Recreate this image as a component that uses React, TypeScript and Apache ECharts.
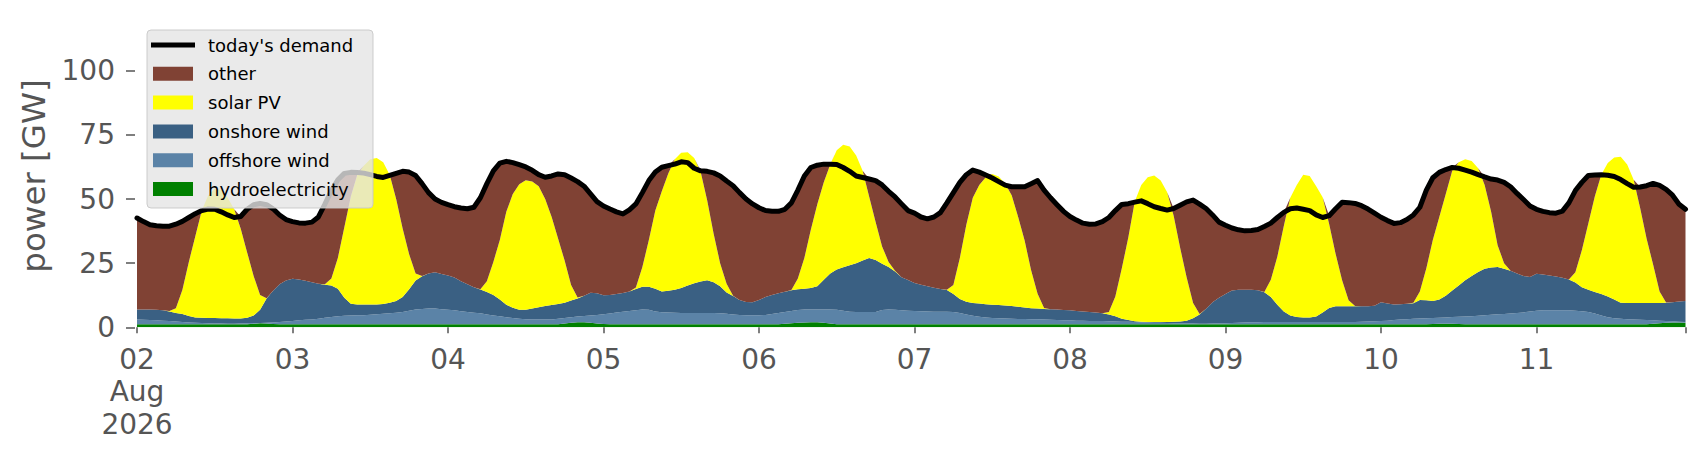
import React, { useEffect, useRef } from "react";
import * as echarts from "echarts";

// hourly timestamps, 2 Aug 2026 00:00 .. 11 Aug 2026 23:00
const START_DAY = 2;
const HOURS = 240;
const categories: string[] = [];
for (let i = 0; i < HOURS; i++) {
  const d = START_DAY + Math.floor(i / 24);
  const h = i % 24;
  categories.push(`2026-08-${String(d).padStart(2, "0")} ${String(h).padStart(2, "0")}:00`);
}

const yTicks = [0, 25, 50, 75, 100];

// GW, one row per day
const hydro = [
  1.2, 1.2, 1.2, 1.2, 1.2, 1.2, 1.2, 1.2, 1.2, 1.2, 1.2, 1.2, 1.2, 1.2, 1.2, 1.2, 1.2, 1.2, 1.4, 1.6, 1.5, 1.3, 1.2, 1.2,
  1.2, 1.2, 1.2, 1.2, 1.2, 1.2, 1.2, 1.2, 1.2, 1.2, 1.2, 1.2, 1.2, 1.2, 1.2, 1.2, 1.2, 1.2, 1.2, 1.2, 1.2, 1.2, 1.2, 1.2,
  1.2, 1.2, 1.2, 1.2, 1.2, 1.2, 1.2, 1.2, 1.2, 1.2, 1.2, 1.2, 1.2, 1.2, 1.2, 1.2, 1.2, 1.2, 1.5, 1.8, 2.0, 2.0, 1.8, 1.5,
  1.3, 1.2, 1.2, 1.2, 1.2, 1.2, 1.2, 1.2, 1.2, 1.2, 1.2, 1.2, 1.2, 1.2, 1.2, 1.2, 1.2, 1.2, 1.2, 1.2, 1.2, 1.2, 1.2, 1.2,
  1.2, 1.2, 1.2, 1.2, 1.4, 1.6, 1.8, 1.9, 2.0, 2.0, 1.8, 1.5, 1.2, 1.2, 1.2, 1.2, 1.2, 1.2, 1.2, 1.2, 1.2, 1.2, 1.2, 1.2,
  1.2, 1.2, 1.2, 1.2, 1.2, 1.2, 1.2, 1.2, 1.2, 1.2, 1.2, 1.2, 1.2, 1.2, 1.2, 1.2, 1.2, 1.2, 1.2, 1.2, 1.2, 1.2, 1.2, 1.2,
  1.2, 1.2, 1.2, 1.2, 1.2, 1.2, 1.2, 1.2, 1.2, 1.2, 1.2, 1.2, 1.2, 1.2, 1.2, 1.2, 1.2, 1.2, 1.2, 1.2, 1.2, 1.2, 1.2, 1.2,
  1.2, 1.2, 1.2, 1.2, 1.2, 1.2, 1.2, 1.2, 1.2, 1.2, 1.2, 1.2, 1.2, 1.2, 1.2, 1.2, 1.2, 1.2, 1.2, 1.2, 1.2, 1.2, 1.2, 1.2,
  1.2, 1.2, 1.2, 1.2, 1.2, 1.2, 1.2, 1.2, 1.3, 1.4, 1.4, 1.4, 1.3, 1.2, 1.2, 1.2, 1.2, 1.2, 1.2, 1.2, 1.2, 1.2, 1.2, 1.2,
  1.2, 1.2, 1.2, 1.2, 1.2, 1.2, 1.2, 1.2, 1.2, 1.2, 1.2, 1.2, 1.2, 1.2, 1.2, 1.2, 1.2, 1.2, 1.4, 1.6, 1.8, 1.9, 1.9, 1.8,
];

const offshoreWind = [
  1.8, 1.7, 1.6, 1.5, 1.4, 1.3, 1.1, 0.9, 0.7, 0.6, 0.5, 0.4, 0.3, 0.3, 0.2, 0.2, 0.3, 0.4, 0.3, 0.1, 0.3, 0.6, 0.9, 1.1,
  1.3, 1.5, 1.7, 1.8, 2.1, 2.5, 2.8, 3.1, 3.3, 3.4, 3.5, 3.5, 3.7, 3.9, 4.1, 4.3, 4.5, 4.8, 5.3, 5.7, 5.9, 6.1, 6.1, 5.8,
  5.6, 5.4, 5.1, 4.8, 4.5, 4.3, 3.8, 3.4, 3.1, 2.7, 2.4, 2.1, 1.9, 1.8, 1.8, 1.8, 1.8, 2.1, 2.1, 2.1, 2.2, 2.4, 2.8, 3.3,
  3.8, 4.2, 4.6, 4.9, 5.2, 5.4, 5.7, 5.6, 5.0, 4.7, 4.6, 4.5, 4.4, 4.4, 4.4, 4.4, 4.4, 4.4, 4.3, 4.1, 3.8, 3.6, 3.5, 3.5,
  3.5, 3.6, 4.0, 4.4, 4.6, 4.8, 4.9, 5.0, 4.9, 4.9, 5.1, 5.4, 5.6, 5.3, 4.9, 4.8, 4.8, 4.8, 4.8, 5.5, 5.7, 5.6, 5.4, 5.3,
  5.2, 5.1, 5.0, 4.9, 4.9, 4.9, 4.8, 4.4, 3.8, 3.3, 2.9, 2.6, 2.4, 2.3, 2.2, 2.1, 2.0, 2.0, 1.9, 1.9, 1.8, 1.7, 1.6, 1.5,
  1.5, 1.4, 1.4, 1.3, 1.3, 1.3, 1.2, 1.1, 1.0, 1.0, 0.9, 0.8, 0.7, 0.6, 0.6, 0.5, 0.4, 0.4, 0.3, 0.3, 0.2, 0.2, 0.3, 0.3,
  0.4, 0.5, 0.6, 0.7, 0.8, 0.8, 0.9, 0.9, 0.9, 0.9, 0.9, 0.9, 0.9, 0.9, 0.9, 0.9, 0.9, 0.9, 0.9, 0.9, 0.9, 1.0, 1.1, 1.2,
  1.3, 1.4, 1.6, 1.8, 1.9, 2.1, 2.2, 2.3, 2.3, 2.3, 2.4, 2.6, 2.8, 3.0, 3.1, 3.3, 3.5, 3.7, 3.9, 4.0, 4.2, 4.4, 4.6, 5.0,
  5.3, 5.4, 5.4, 5.4, 5.4, 5.4, 5.3, 5.1, 4.8, 4.2, 3.4, 2.7, 2.3, 2.1, 1.9, 1.8, 1.7, 1.6, 1.3, 1.0, 0.7, 0.5, 0.3, 0.3,
];

const onshoreWind = [
  3.9, 4.0, 4.1, 4.1, 4.0, 3.7, 3.3, 3.1, 2.5, 2.0, 2.0, 2.0, 2.1, 2.0, 2.1, 2.0, 1.9, 2.1, 2.9, 5.1, 9.4, 12.3, 14.7, 15.9,
  16.4, 15.9, 15.2, 14.6, 13.7, 12.9, 12.3, 10.7, 7.0, 4.6, 4.2, 4.2, 4.0, 3.8, 3.8, 4.1, 4.6, 5.8, 8.3, 11.3, 12.8, 13.7, 14.2, 13.8,
  13.4, 12.8, 11.7, 10.8, 9.9, 9.2, 8.8, 8.0, 6.5, 4.9, 4.0, 3.5, 3.7, 4.3, 4.8, 5.3, 5.7, 5.8, 6.0, 6.5, 7.0, 7.9, 8.9, 8.5,
  7.4, 7.2, 7.2, 7.3, 7.6, 8.3, 8.9, 9.0, 8.8, 8.1, 8.4, 8.9, 9.7, 10.7, 11.6, 12.3, 12.7, 12.0, 10.5, 8.3, 7.2, 5.8, 5.2, 5.1,
  5.9, 7.0, 7.4, 7.7, 7.9, 8.0, 8.1, 8.1, 8.4, 9.1, 11.6, 14.1, 15.7, 16.9, 18.1, 19.0, 20.0, 21.0, 20.2, 18.1, 16.6, 15.0, 12.9, 11.9,
  10.9, 10.3, 9.8, 9.3, 8.8, 8.4, 7.0, 5.4, 5.0, 5.0, 5.2, 5.2, 5.2, 5.2, 5.1, 5.0, 4.8, 4.5, 4.3, 4.2, 4.1, 4.1, 4.1, 4.0,
  3.9, 3.8, 3.6, 3.5, 3.3, 3.0, 2.6, 2.0, 1.1, 0.6, 0.3, 0.2, 0.2, 0.3, 0.3, 0.4, 0.6, 0.7, 1.1, 2.0, 3.6, 5.8, 8.3, 10.0,
  11.4, 12.6, 12.8, 12.7, 12.6, 12.4, 11.6, 9.7, 6.7, 4.1, 2.5, 1.9, 1.7, 1.7, 2.1, 3.7, 5.4, 6.1, 6.1, 6.1, 6.1, 6.0, 5.9, 6.0,
  7.3, 6.7, 6.1, 6.0, 6.1, 6.1, 7.2, 7.0, 6.7, 7.1, 8.5, 10.3, 12.2, 14.1, 15.7, 17.1, 18.1, 18.4, 18.4, 17.6, 16.6, 15.4, 14.2, 13.4,
  14.4, 14.0, 13.6, 13.2, 12.7, 12.0, 11.0, 9.3, 8.6, 8.4, 8.4, 8.1, 7.3, 6.3, 6.4, 6.5, 6.6, 6.7, 6.8, 6.9, 7.1, 7.4, 7.9, 8.2,
];

const solarPV = [
  0, 0, 0, 0, 0, 0.2, 1.8, 9.3, 21.1, 31.7, 41.8, 47.9, 50.4, 50.0, 47.0, 42.6, 35.1, 25.5, 15.4, 5.8, 0.1, 0, 0, 0,
  0, 0, 0, 0, 0, 0.2, 2.7, 12.0, 27.5, 41.8, 50.6, 54.1, 56.6, 57.1, 55.2, 49.9, 39.7, 26.7, 13.7, 2.8, 0.1, 0, 0, 0,
  0, 0, 0, 0, 0, 0.1, 4.2, 12.9, 23.2, 36.2, 44.4, 49.0, 50.5, 49.5, 47.2, 41.7, 34.3, 25.4, 16.4, 6.1, 0.4, 0, 0, 0,
  0, 0, 0, 0, 0, 0.6, 7.7, 18.2, 30.5, 39.0, 45.8, 50.9, 52.7, 51.9, 48.8, 42.6, 31.2, 18.9, 9.0, 3.4, 0.1, 0, 0, 0,
  0, 0, 0, 0, 0, 0.1, 4.2, 12.0, 22.7, 32.0, 38.0, 42.5, 46.5, 47.8, 46.3, 42.0, 35.0, 24.0, 14.8, 6.7, 2.0, 0.2, 0, 0,
  0, 0, 0, 0, 0, 0.1, 3.5, 16.0, 30.0, 41.0, 46.2, 49.5, 51.0, 50.1, 47.5, 43.2, 35.0, 26.1, 14.8, 5.8, 0.4, 0, 0, 0,
  0, 0, 0, 0, 0, 0, 1.0, 7.7, 19.7, 32.2, 46.6, 53.3, 56.4, 57.1, 55.1, 50.5, 41.3, 28.7, 16.9, 6.0, 0.2, 0, 0, 0,
  0, 0, 0, 0, 0, 0, 0.1, 6.7, 18.7, 33.3, 45.9, 51.5, 55.7, 55.2, 50.8, 44.9, 32.8, 20.4, 10.1, 2.3, 0.1, 0, 0, 0,
  0, 0, 0, 0, 0, 0.2, 3.4, 12.5, 23.7, 32.2, 39.7, 46.7, 48.0, 47.2, 44.8, 40.4, 32.7, 21.7, 8.5, 2.2, 0, 0, 0, 0,
  0, 0, 0, 0, 0, 0, 4.0, 14.4, 25.9, 37.2, 46.5, 52.0, 55.4, 56.9, 54.0, 48.0, 37.0, 25.0, 15.0, 4.5, 0.1, 0, 0, 0,
];

const other = [
  35.7, 34.3, 33.1, 32.8, 32.8, 33.0, 32.8, 26.8, 17.3, 8.8, 0, 0, 0, 0, 0, 0, 4.7, 16.8, 27.8, 35.7, 36.5, 32.0, 27.0, 23.8,
  22.3, 22.1, 22.5, 23.4, 26.0, 31.2, 34.3, 30.5, 21.0, 9.4, 0.8, 0, 0, 0, 0, 0, 10.0, 22.3, 32.0, 38.2, 36.0, 31.5, 28.5, 27.9,
  27.6, 27.6, 28.5, 29.4, 31.2, 35.7, 38.0, 35.5, 30.0, 19.7, 12.2, 7.6, 5.2, 4.4, 4.5, 8.5, 16.0, 25.3, 33.5, 41.7, 45.2, 42.7, 38.5, 35.7,
  34.8, 33.5, 32.0, 30.8, 31.8, 32.6, 28.9, 23.2, 15.0, 9.4, 3.0, 0, 0, 0, 0, 0.5, 11.3, 23.7, 34.0, 40.0, 42.9, 41.9, 40.1, 38.3,
  36.0, 33.7, 32.6, 31.9, 32.1, 34.0, 34.5, 32.0, 24.3, 15.2, 7.1, 0.1, 0, 0, 0, 0, 0, 6.8, 16.2, 24.0, 27.5, 28.8, 28.6, 27.1,
  27.2, 26.4, 26.3, 27.6, 29.8, 33.9, 36.0, 29.5, 19.5, 10.8, 5.0, 0.9, 0, 0, 0, 3.3, 11.8, 21.0, 33.8, 44.1, 46.0, 43.5, 40.9, 38.5,
  36.6, 35.4, 34.4, 34.2, 34.5, 35.7, 36.8, 33.5, 24.9, 13.2, 0, 0, 0, 0, 0, 0, 2.8, 16.6, 29.4, 40.1, 42.8, 39.1, 34.0, 29.5,
  26.8, 24.4, 23.4, 23.0, 23.1, 23.7, 25.5, 22.1, 15.3, 5.3, 0, 0, 0, 0, 0, 0, 3.2, 17.6, 30.4, 38.1, 40.0, 39.2, 37.9, 36.1,
  33.1, 32.3, 31.6, 31.8, 32.8, 34.2, 32.8, 30.5, 24.3, 17.4, 9.5, 1.3, 0, 0, 0, 0, 3.1, 12.8, 25.4, 31.5, 32.8, 31.2, 29.8, 27.7,
  25.1, 24.6, 24.5, 24.7, 26.0, 29.9, 31.8, 26.5, 18.7, 8.4, 0, 0, 0, 0, 0, 0, 8.2, 20.7, 31.6, 41.3, 44.1, 41.7, 37.9, 35.7,
];

const demand = [
  42.6, 41.2, 40, 39.6, 39.4, 39.4, 40.2, 41.3, 42.8, 44.3, 45.5, 46.1, 46, 45, 43.8, 42.8, 43.2, 46, 47.8, 48.3, 47.8, 46.2, 43.8, 42,
  41.2, 40.7, 40.6, 41, 43, 48, 53.3, 57.5, 60, 60.4, 60.3, 60.1, 59.5, 58.8, 58.4, 59.2, 60, 60.8, 60.5, 59.2, 56, 52.5, 50, 48.7,
  47.8, 47, 46.5, 46.2, 46.8, 50.5, 56, 61, 64, 64.7, 64.2, 63.4, 62.5, 61.2, 59.5, 58.5, 59, 59.8, 59.5, 58.2, 56.8, 55, 52, 49,
  47.3, 46.1, 45, 44.2, 45.8, 48.1, 52.5, 57.2, 60.5, 62.4, 63, 63.6, 64.5, 64.2, 62, 61, 60.8, 60.2, 59, 57, 55.2, 52.5, 50, 48.1,
  46.6, 45.5, 45.2, 45.2, 46, 48.5, 53.5, 59, 62.3, 63.2, 63.6, 63.6, 63.5, 62.3, 60.8, 59, 58.4, 57.8, 57.2, 55.5, 53, 50.8, 48.1, 45.5,
  44.5, 43, 42.3, 43, 44.7, 48.5, 52.5, 56.5, 59.5, 61.3, 60.5, 59.4, 58.2, 56.8, 55.4, 54.8, 54.8, 54.8, 56, 57.2, 53.5, 50.5, 47.8, 45.2,
  43.2, 41.8, 40.6, 40.2, 40.3, 41.2, 42.8, 45.5, 47.9, 48.2, 48.8, 49.3, 48.2, 47, 46.3, 45.7, 46.3, 47.6, 48.9, 49.6, 48, 46.3, 43.8, 41,
  39.8, 38.7, 38, 37.6, 37.7, 38.1, 39.3, 40.6, 42.8, 44.8, 46.2, 46.5, 46, 45.5, 43.8, 42.8, 43.5, 46.2, 48.7, 48.6, 48.3, 47.4, 46.1, 44.5,
  42.9, 41.6, 40.5, 40.8, 42, 43.8, 46.8, 53.5, 58.3, 60.4, 61.5, 62.3, 62, 61.3, 60.5, 59.5, 58.6, 57.8, 57.4, 56.5, 54.8, 52.2, 49.8, 47.3,
  46, 45.2, 44.7, 44.5, 45.3, 48.5, 53.3, 56.5, 59.2, 59.4, 59.5, 59.3, 58.8, 57.6, 56, 54.6, 54.7, 55.2, 56.1, 55.3, 53.8, 51.5, 48, 46,
];

// stacking order, bottom to top
const STACK = [
  { name: "hydroelectricity", data: hydro, color: "#008000" },
  { name: "offshore wind", data: offshoreWind, color: "#5b83a7" },
  { name: "onshore wind", data: onshoreWind, color: "#3a6083" },
  { name: "solar PV", data: solarPV, color: "#ffff00" },
  { name: "other", data: other, color: "#804234" },
];
const DEMAND_NAME = "today's demand";
const LEGEND_ORDER = [DEMAND_NAME, "other", "solar PV", "onshore wind", "offshore wind", "hydroelectricity"];

const FONT = "DejaVu Sans";
const GREY = "#555555";

function legendGraphics() {
  const els: any[] = [
    {
      type: "rect",
      z: 100,
      shape: { x: 147, y: 30, width: 226, height: 178, r: 4 },
      style: { fill: "rgba(229,229,229,0.8)", stroke: "rgba(200,200,200,0.9)", lineWidth: 1 },
    },
  ];
  LEGEND_ORDER.forEach((name, i) => {
    const cy = 45 + i * 28.8;
    if (name === DEMAND_NAME) {
      els.push({ type: "line", z: 101, shape: { x1: 151, y1: cy, x2: 195, y2: cy }, style: { stroke: "#000", lineWidth: 5 } });
    } else {
      const s = STACK.find((x) => x.name === name)!;
      els.push({ type: "rect", z: 101, shape: { x: 153, y: cy - 7, width: 40, height: 14 }, style: { fill: s.color } });
    }
    els.push({
      type: "text",
      z: 101,
      x: 208,
      y: cy,
      style: {
        text: name,
        fill: "#000",
        fontSize: 18,
        fontFamily: FONT,
        align: "left",
        verticalAlign: "middle",
      },
    });
  });
  return els;
}

export default function App() {
  const ref = useRef<HTMLDivElement>(null);
  useEffect(() => {
    if (!ref.current) return;
    const chart = echarts.init(ref.current, null, { renderer: "svg" });
    const last = HOURS - 1;
    chart.setOption({
      animation: false,
      backgroundColor: "#ffffff",
      grid: { left: 137, right: 20.5, top: 24.6, bottom: 132.7, containLabel: false, outerBoundsMode: "none" },
      graphic: { elements: legendGraphics() },
      xAxis: {
        type: "category",
        data: categories,
        boundaryGap: false,
        offset: 2,
        axisLine: { show: false },
        splitLine: { show: false },
        axisTick: {
          show: true,
          interval: (i: number) => i % 24 === 0 || i === last,
          length: 6,
          lineStyle: { color: GREY, width: 1.5 },
        },
        axisLabel: {
          interval: (i: number) => i % 24 === 0,
          color: GREY,
          fontFamily: FONT,
          fontSize: 28,
          lineHeight: 32.4,
          margin: 13.8,
          formatter: (v: string, i: number) => (i === 0 ? `${v.slice(8, 10)}\nAug\n${v.slice(0, 4)}` : v.slice(8, 10)),
        },
      },
      yAxis: {
        type: "value",
        min: 0,
        max: 118,
        offset: 2,
        axisLine: { show: false },
        splitLine: { show: false },
        axisTick: { show: true, customValues: yTicks, length: 9, lineStyle: { color: GREY, width: 1.5 } },
        axisLabel: { customValues: yTicks, color: GREY, fontFamily: FONT, fontSize: 28, margin: 20 },
        name: "power [GW]",
        nameLocation: "middle",
        nameGap: 82,
        nameTextStyle: { color: GREY, fontFamily: FONT, fontSize: 32.5 },
      },
      series: [
        ...STACK.map((s) => ({
          name: s.name,
          type: "line",
          stack: "total",
          data: s.data,
          symbol: "none",
          showSymbol: false,
          color: s.color,
          itemStyle: { color: s.color },
          lineStyle: { width: 0, color: s.color },
          areaStyle: { color: s.color, opacity: 1 },
          emphasis: { disabled: true },
        })),
        {
          name: DEMAND_NAME,
          type: "line",
          data: demand,
          symbol: "none",
          showSymbol: false,
          color: "#000",
          itemStyle: { color: "#000" },
          lineStyle: { color: "#000", width: 5, join: "round", cap: "round" },
          z: 10,
          emphasis: { disabled: true },
        },
      ],
    });
    return () => chart.dispose();
  }, []);
  return <div ref={ref} style={{ position: "fixed", left: 0, top: 0, width: 1706, height: 460 }} />;
}
